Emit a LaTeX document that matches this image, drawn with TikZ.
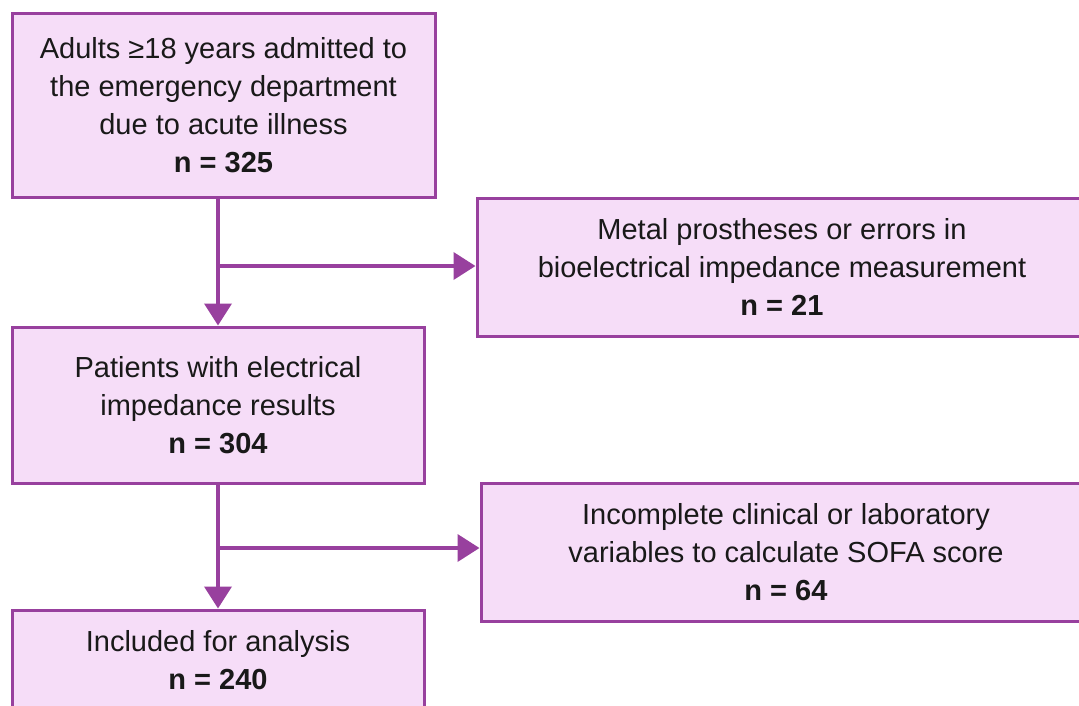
\documentclass[tikz,border=0pt]{standalone}
\usepackage{fontspec}
\setmainfont{Liberation Sans}
\usetikzlibrary{arrows.meta}
\definecolor{edge}{RGB}{152,64,158}
\definecolor{boxfill}{RGB}{246,221,248}
\tikzset{
  flowbox/.style={draw=edge, fill=boxfill, line width=3pt, inner sep=0pt, align=center,
    font=\fontsize{29}{38}\selectfont, text=black!90},
  arr/.style={draw=edge, line width=3.8pt, -{Triangle[length=22pt,width=27pt]}}
}
\begin{document}
\begin{tikzpicture}[x=1pt,y=-1pt]
\clip (0,0) rectangle (1079,705);
\fill[white] (0,0) rectangle (1079,705);
\node[flowbox, minimum width=423pt, minimum height=184pt] (b1) at (223.5,105)
  {Adults ≥18 years admitted to\\the emergency department\\due to acute illness\\\textbf{n = 325}};
\node[flowbox, minimum width=610pt, minimum height=138pt] (b2) at (782,267)
  {Metal prostheses or errors in\\bioelectrical impedance measurement\\\textbf{n = 21}};
\node[flowbox, minimum width=412pt, minimum height=156pt] (b3) at (218,405)
  {Patients with electrical\\impedance results\\\textbf{n = 304}};
\node[flowbox, minimum width=610pt, minimum height=138pt] (b4) at (786,552)
  {Incomplete clinical or laboratory\\variables to calculate SOFA score\\\textbf{n = 64}};
\node[flowbox, minimum width=412pt, minimum height=100pt] (b5) at (218,660)
  {Included for analysis\\\textbf{n = 240}};
\coordinate (j1) at (218,266);
\coordinate (j2) at (218,548);
\draw[arr] (b1.south -| b3.north) -- (b3.north);
\draw[arr] (j1) -- (j1 -| b2.west);
\draw[arr] (b3.south) -- (b5.north);
\draw[arr] (j2) -- (j2 -| b4.west);
\end{tikzpicture}
\end{document}
